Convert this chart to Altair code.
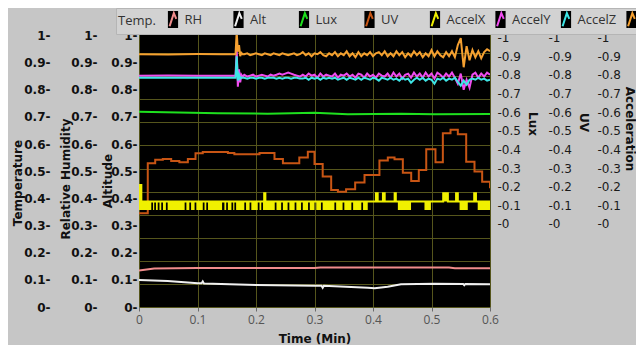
import altair as alt
import pandas as pd

# ---------------- series / legend ----------------
SERIES = ["Temp.", "RH", "Alt", "Lux", "UV", "AccelX", "AccelY", "AccelZ"]
COLORS = ["#f08c8c", "#f0f0f0", "#1ee01e", "#c85514", "#f0f000", "#f04cf0", "#3ee6e6", "#f5a030"]
# LabVIEW legend: name first, then its icon -> in a symbol-first legend the text after each icon is the next name
NEXT_NAME = ["RH", "Alt", "Lux", "UV", "AccelX", "AccelY", "AccelZ", ""]

Y_TICKS = [0, 0.1, 0.2, 0.3, 0.4, 0.5, 0.6, 0.7, 0.8, 0.9, 1]
X_TICKS = [0, 0.1, 0.2, 0.3, 0.4, 0.5, 0.6]
GRID_ROWS = [1, 2, 3, 4, 5, 6, 7, 8, 9, 10, 11, 12, 13]
LEFT_DOMAIN = [0, 1.02]
RIGHT_DOMAIN = [-0.446, 1.041]

# ---------------- data (time in minutes) ----------------
TEMP_T = [0, 0.026, 0.1, 0.3, 0.31, 0.53, 0.54, 0.6]
TEMP_V = [0.134, 0.142, 0.144, 0.144, 0.145, 0.145, 0.143, 0.143]

RH_T = [0, 0.049, 0.1006, 0.107, 0.109, 0.111, 0.2003, 0.30, 0.312, 0.314, 0.316,
        0.391, 0.403, 0.425, 0.448, 0.505, 0.554, 0.556, 0.558, 0.6]
RH_V = [0.0994, 0.0957, 0.0872, 0.0872, 0.094, 0.0868, 0.081, 0.0784, 0.0784, 0.071, 0.0784,
        0.071, 0.0688, 0.0747, 0.0835, 0.0858, 0.085, 0.080, 0.085, 0.0835]

ALT_T = [0, 0.135, 0.22, 0.30, 0.357, 0.448, 0.505, 0.6]
ALT_V = [0.719, 0.713, 0.712, 0.715, 0.7095, 0.712, 0.7095, 0.711]

LUX_T = [0, 0.015, 0.0277, 0.0407, 0.055, 0.069, 0.0835, 0.0966, 0.109, 0.152, 0.163, 0.206,
         0.2316, 0.246, 0.274, 0.2886, 0.300, 0.314, 0.3285, 0.34, 0.354, 0.3695, 0.3855,
         0.411, 0.4253, 0.4368, 0.451, 0.4653, 0.4783, 0.491, 0.5068, 0.5194, 0.5325, 0.545,
         0.5593, 0.5735, 0.5866, 0.6]
LUX_V = [0.057, 0.326, 0.344, 0.349, 0.338, 0.331, 0.349, 0.379, 0.386, 0.381, 0.374, 0.381,
         0.349, 0.326, 0.356, 0.388, 0.322, 0.254, 0.182, 0.173, 0.186, 0.222, 0.263,
         0.340, 0.356, 0.347, 0.275, 0.231, 0.290, 0.401, 0.331, 0.487, 0.505, 0.481,
         0.334, 0.281, 0.227, 0.192]

# UV: fast toggling signal, kept as (low, high) envelope per step
UV_T = [0, 0.004, 0.021, 0.024, 0.026, 0.029, 0.032, 0.035, 0.038, 0.041, 0.046, 0.049,
        0.078, 0.081, 0.086, 0.089, 0.095, 0.098, 0.109, 0.112, 0.115, 0.118, 0.142, 0.146,
        0.149, 0.152, 0.158, 0.161, 0.163, 0.166, 0.180, 0.183, 0.189, 0.192, 0.203, 0.206,
        0.209, 0.212, 0.214, 0.216, 0.232, 0.235, 0.243, 0.246, 0.254, 0.257, 0.266, 0.269,
        0.277, 0.280, 0.289, 0.292, 0.300, 0.303, 0.311, 0.314, 0.334, 0.337, 0.348, 0.351,
        0.363, 0.366, 0.380, 0.383, 0.391, 0.405, 0.408, 0.417, 0.420, 0.437, 0.439, 0.4425,
        0.465, 0.488, 0.499, 0.520, 0.528, 0.542, 0.545, 0.548, 0.562, 0.573, 0.576, 0.579, 0.6]
UV_LO = [0.075, 0.075, 0.12, 0.075, 0.12, 0.075, 0.12, 0.075, 0.12, 0.075, 0.12, 0.075,
         0.12, 0.075, 0.12, 0.075, 0.12, 0.075, 0.12, 0.075, 0.12, 0.075, 0.12, 0.075,
         0.12, 0.075, 0.12, 0.075, 0.12, 0.075, 0.12, 0.075, 0.12, 0.075, 0.12, 0.075,
         0.12, 0.075, 0.075, 0.075, 0.12, 0.075, 0.12, 0.075, 0.12, 0.075, 0.12, 0.075,
         0.12, 0.075, 0.12, 0.075, 0.12, 0.075, 0.12, 0.075, 0.12, 0.075, 0.12, 0.075,
         0.12, 0.075, 0.12, 0.075, 0.12, 0.12, 0.12, 0.12, 0.12, 0.12, 0.12, 0.075,
         0.12, 0.075, 0.12, 0.12, 0.12, 0.12, 0.12, 0.075, 0.12, 0.12, 0.12, 0.075, 0.075]
UV_HI = [0.209, 0.12, 0.12, 0.12, 0.12, 0.12, 0.12, 0.12, 0.12, 0.12, 0.12, 0.12,
         0.12, 0.12, 0.12, 0.12, 0.12, 0.12, 0.12, 0.12, 0.12, 0.12, 0.12, 0.12,
         0.12, 0.12, 0.12, 0.12, 0.12, 0.12, 0.12, 0.12, 0.12, 0.12, 0.12, 0.12,
         0.12, 0.12, 0.165, 0.12, 0.12, 0.12, 0.12, 0.12, 0.12, 0.12, 0.12, 0.12,
         0.12, 0.12, 0.12, 0.12, 0.12, 0.12, 0.12, 0.12, 0.12, 0.12, 0.12, 0.12,
         0.12, 0.12, 0.12, 0.12, 0.12, 0.165, 0.12, 0.165, 0.12, 0.165, 0.12, 0.12,
         0.12, 0.12, 0.12, 0.165, 0.12, 0.165, 0.12, 0.12, 0.12, 0.165, 0.12, 0.12, 0.12]

ACC_PRE_T = [0, 0.05, 0.1, 0.14, 0.165, 0.167, 0.169, 0.171, 0.173, 0.175, 0.177]
NOISE_T = [0.18, 0.185, 0.19, 0.195, 0.2, 0.205, 0.21, 0.215, 0.22, 0.225,
           0.23, 0.235, 0.24, 0.245, 0.25, 0.255, 0.26, 0.265, 0.27, 0.275,
           0.28, 0.285, 0.29, 0.295, 0.3, 0.305, 0.31, 0.315, 0.32, 0.325,
           0.33, 0.335, 0.34, 0.345, 0.35, 0.355, 0.36, 0.365, 0.37, 0.375,
           0.38, 0.385, 0.39, 0.395, 0.4, 0.405, 0.41, 0.415, 0.42, 0.425,
           0.43, 0.435, 0.44, 0.445, 0.45, 0.455, 0.46, 0.465, 0.47, 0.475,
           0.48, 0.485, 0.49, 0.495, 0.5, 0.505, 0.51, 0.515, 0.52, 0.525,
           0.53, 0.535, 0.54, 0.545, 0.55, 0.555, 0.56, 0.565, 0.57, 0.575,
           0.58, 0.585, 0.59, 0.595, 0.6]

ACCX_PRE = [0.796, 0.797, 0.795, 0.796, 0.796, 0.934, 0.737, 0.83, 0.76, 0.80, 0.79]
ACCX_NOISE = [0.801, 0.791, 0.796, 0.801, 0.791, 0.796, 0.801, 0.796, 0.791, 0.801,
              0.796, 0.801, 0.807, 0.801, 0.807, 0.812, 0.807, 0.801, 0.796, 0.791,
              0.801, 0.791, 0.807, 0.796, 0.801, 0.785, 0.807, 0.791, 0.801, 0.796,
              0.791, 0.807, 0.785, 0.801, 0.796, 0.807, 0.791, 0.801, 0.785, 0.807,
              0.801, 0.785, 0.807, 0.791, 0.801, 0.785, 0.807, 0.796, 0.791, 0.807,
              0.785, 0.812, 0.791, 0.807, 0.780, 0.801, 0.807, 0.785, 0.812, 0.791,
              0.807, 0.785, 0.812, 0.791, 0.807, 0.780, 0.812, 0.801, 0.785, 0.807,
              0.791, 0.812, 0.785, 0.753, 0.807, 0.720, 0.774, 0.731, 0.801, 0.812,
              0.785, 0.807, 0.791, 0.812, 0.801]

ACCY_PRE = [0.785, 0.784, 0.785, 0.785, 0.785, 0.90, 0.77, 0.80, 0.78, 0.786, 0.785]
ACCY_NOISE = [0.785, 0.780, 0.785, 0.785, 0.780, 0.785, 0.785, 0.780, 0.785, 0.785,
              0.785, 0.780, 0.785, 0.780, 0.785, 0.785, 0.780, 0.785, 0.785, 0.780,
              0.780, 0.785, 0.774, 0.785, 0.780, 0.785, 0.774, 0.785, 0.780, 0.785,
              0.780, 0.785, 0.774, 0.780, 0.785, 0.774, 0.785, 0.780, 0.774, 0.785,
              0.774, 0.785, 0.780, 0.774, 0.785, 0.780, 0.769, 0.785, 0.780, 0.774,
              0.785, 0.774, 0.780, 0.769, 0.785, 0.774, 0.780, 0.758, 0.774, 0.785,
              0.774, 0.785, 0.769, 0.780, 0.774, 0.753, 0.780, 0.774, 0.785, 0.769,
              0.780, 0.774, 0.785, 0.763, 0.742, 0.769, 0.747, 0.774, 0.780, 0.774,
              0.785, 0.774, 0.780, 0.769, 0.774]

ACCZ_PRE = [0.911, 0.910, 0.912, 0.911, 0.911, 1.031, 0.925, 0.960, 0.900, 0.918, 0.911]
ACCZ_NOISE = [0.911, 0.916, 0.906, 0.911, 0.916, 0.911, 0.906, 0.916, 0.911, 0.906,
              0.916, 0.911, 0.906, 0.916, 0.911, 0.906, 0.911, 0.916, 0.906, 0.911,
              0.922, 0.906, 0.916, 0.900, 0.916, 0.911, 0.922, 0.906, 0.900, 0.916,
              0.906, 0.922, 0.900, 0.916, 0.906, 0.927, 0.900, 0.916, 0.895, 0.922,
              0.900, 0.916, 0.906, 0.922, 0.900, 0.916, 0.922, 0.906, 0.927, 0.900,
              0.916, 0.900, 0.927, 0.906, 0.922, 0.895, 0.916, 0.900, 0.927, 0.906,
              0.922, 0.895, 0.916, 0.900, 0.933, 0.900, 0.927, 0.906, 0.895, 0.922,
              0.900, 0.927, 0.895, 0.960, 0.997, 0.841, 0.954, 0.879, 0.933, 0.895,
              0.927, 0.889, 0.922, 0.938, 0.927]

# ---------------- styling constants ----------------
BG = "#c6c6c6"
GRID = "#55551c"
FONT = "DejaVu Sans"
LFONT = "Open Sans"

# legend icon: black box with a coloured "/\" stroke.  The caret is drawn first, then
# retraced and followed by the box outline; the dash pattern only shows the caret.
ICON_PATH = ("M-0.4,0.8L0.1,-0.75L0.4,-0.05L0.1,-0.75L-0.4,0.8L-0.4,1"
             "L-0.6,1L-0.6,-1L0.6,-1L0.6,1L-0.4,1Z")


def frame(name, ts, vs):
    return pd.DataFrame({"t": ts, "v": vs, "series": name})


def label_expr(keys, labels):
    expr = "''"
    for k, lab in zip(reversed(keys), reversed(labels)):
        expr = f"datum.label == '{k}' ? '{lab}' : ({expr})"
    return expr


legend = alt.Legend(
    orient="none", legendX=-23, legendY=-22, direction="horizontal", columns=8,
    gridAlign="all", columnPadding=5.5, padding=2, symbolSize=289, labelOffset=2,
    symbolType=ICON_PATH, symbolStrokeWidth=2, symbolDash=[20, 400], symbolOpacity=1,
    title="Temp.", titleOrient="left", titleFont=LFONT, titleFontSize=13,
    titleFontWeight="normal", titleColor="#333333", titlePadding=7.5,
    titleBaseline="middle", titleAnchor="middle",
    labelFont=LFONT, labelFontSize=13, labelColor="#333333",
    labelExpr=label_expr(SERIES, NEXT_NAME),
    fillColor="#d2d2d2", strokeColor="#b5b5b5",
)

X_ENC = alt.X(
    "t:Q", scale=alt.Scale(domain=[0, 0.6], nice=False, zero=False),
    axis=alt.Axis(values=X_TICKS, format=".1~f", grid=True, gridColor=GRID, gridOpacity=1,
                  domain=False, ticks=True, tickSize=4, tickColor="#6a6a6a", labelPadding=3,
                  labelFlush=False, labelBound=False,
                  labelFont=LFONT, labelFontSize=12, labelColor="#555555",
                  title="Time (Min)", titleFont=FONT, titleFontSize=12, titleFontWeight="bold",
                  titleColor="#111111", titleY=31, titleBaseline="middle"))

STROKE = alt.Stroke("series:N", scale=alt.Scale(domain=SERIES, range=COLORS), legend=legend)


def left_axis(title, offset, tx, ty):
    return alt.Axis(orient="left", offset=offset, values=Y_TICKS, format=".1~f",
                    labelExpr="datum.label + '-'", ticks=False, domain=False, grid=False,
                    labelPadding=2, labelFont=FONT, labelFontSize=12, labelFontWeight="bold",
                    labelColor="#111111", title=title, titleFont=FONT, titleFontSize=12,
                    titleFontWeight="bold", titleColor="#111111", titleX=tx, titleY=ty,
                    titleAngle=-90, titleAlign="center", titleBaseline="middle")


def right_axis(title, offset, tx, ty):
    return alt.Axis(orient="right", offset=offset, values=Y_TICKS, format=".1~f",
                    labelExpr="'-' + datum.label", ticks=False, domain=False, grid=False,
                    labelPadding=7, labelFont=FONT, labelFontSize=12, labelFontWeight="normal",
                    labelColor="#1a1a1a", title=title, titleFont=FONT, titleFontSize=12,
                    titleFontWeight="bold", titleColor="#111111", titleX=tx, titleY=ty,
                    titleAngle=90, titleAlign="center", titleBaseline="middle")


LEFT_SCALE = alt.Scale(domain=LEFT_DOMAIN, nice=False, zero=False)
RIGHT_SCALE = alt.Scale(domain=RIGHT_DOMAIN, nice=False, zero=False)

temp_df = frame("Temp.", TEMP_T, TEMP_V)

# first layer: its axis draws the 12-division horizontal grid; its (clipped, never visible)
# black-filled squares give the legend icons their black box.
grid_layer = alt.Chart(temp_df).mark_square(filled=True, fill="#000000", size=30, clip=True).encode(
    x=X_ENC,
    y=alt.Y("v:Q", scale=alt.Scale(domain=[1, 13], nice=False, zero=False),
            axis=alt.Axis(orient="left", values=GRID_ROWS, grid=True, gridColor=GRID,
                          gridOpacity=1, labels=False, ticks=False, domain=False, title=None)),
    stroke=STROKE,
)


def line_layer(df, y, interp="linear"):
    return alt.Chart(df).mark_line(strokeWidth=2, clip=True, interpolate=interp).encode(
        x=X_ENC, y=y, stroke=STROKE)


temp_layer = line_layer(temp_df,
                        alt.Y("v:Q", scale=LEFT_SCALE, axis=left_axis("Temperature", 87, -35, 152.5)))
rh_layer = line_layer(frame("RH", RH_T, RH_V),
                      alt.Y("v:Q", scale=LEFT_SCALE, axis=left_axis("Relative Humidity", 40, -34, 148.5)))
alt_layer = line_layer(frame("Alt", ALT_T, ALT_V),
                       alt.Y("v:Q", scale=LEFT_SCALE, axis=left_axis("Altitude", 0, -32, 150.5)))
lux_layer = line_layer(frame("Lux", LUX_T, LUX_V),
                       alt.Y("v:Q", scale=RIGHT_SCALE, axis=right_axis("Lux", 0, 42, 93.5)),
                       interp="step-after")

uv_df = pd.DataFrame({"t": UV_T, "lo": UV_LO, "hi": UV_HI, "series": "UV"})
uv_band = alt.Chart(uv_df).mark_area(interpolate="step-after", color=COLORS[4], opacity=1, clip=True).encode(
    x=X_ENC, y=alt.Y("lo:Q", scale=RIGHT_SCALE, axis=None), y2="hi:Q")
uv_line = alt.Chart(uv_df).mark_line(strokeWidth=2, interpolate="step-after", clip=True).encode(
    x=X_ENC, y=alt.Y("hi:Q", scale=RIGHT_SCALE, axis=right_axis("UV", 51, 42, 92)), stroke=STROKE)

acc_df = pd.concat([
    frame("AccelX", ACC_PRE_T + NOISE_T, ACCX_PRE + ACCX_NOISE),
    frame("AccelY", ACC_PRE_T + NOISE_T, ACCY_PRE + ACCY_NOISE),
    frame("AccelZ", ACC_PRE_T + NOISE_T, ACCZ_PRE + ACCZ_NOISE),
], ignore_index=True)
acc_layer = alt.Chart(acc_df).mark_line(strokeWidth=2, clip=True).encode(
    x=X_ENC,
    y=alt.Y("v:Q", scale=RIGHT_SCALE, axis=right_axis("Acceleration", 100, 39, 98.5)),
    stroke=STROKE, detail="series:N")

chart = alt.layer(
    grid_layer, temp_layer, rh_layer, alt_layer, lux_layer, uv_band, uv_line, acc_layer
).resolve_scale(y="independent").properties(
    width=351, height=277,
    padding={"left": 131, "top": 22, "right": 146, "bottom": 38},
    autosize=alt.AutoSizeParams(type="none"),
    background=BG,
).configure_view(fill="#000000", stroke="#8c8c8c", strokeWidth=1)

chart.save("out.html", embed_options={"renderer": "svg", "actions": False})
